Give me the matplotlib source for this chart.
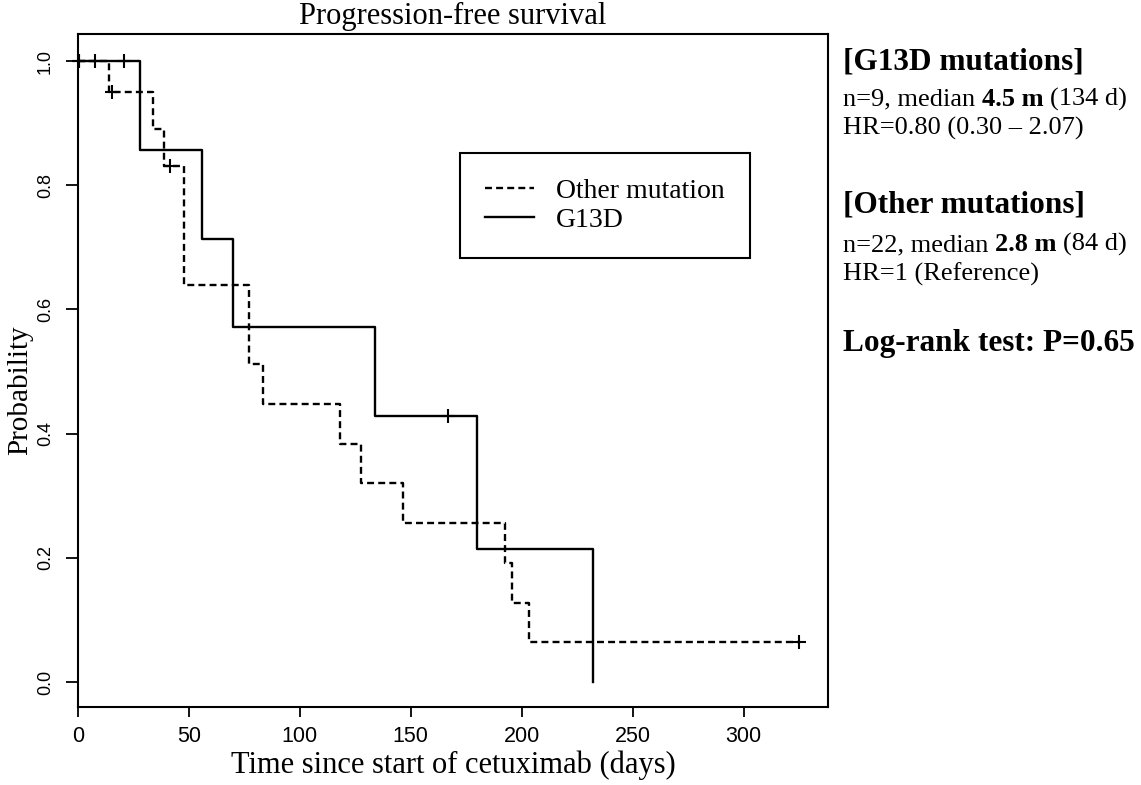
import matplotlib
matplotlib.use("Agg")
import matplotlib.pyplot as plt

# Kaplan-Meier steps (days, survival probability)
g13d_times = [0, 28, 56, 70, 134, 180, 232]
g13d_surv = [1.0, 0.857, 0.714, 0.571, 0.429, 0.214, 0.0]
g13d_cens_times = [0.6, 7.8, 21, 167]
g13d_cens_surv = [1.0, 1.0, 1.0, 0.429]

other_times = [0, 14, 34, 39, 48, 77, 83.5, 118, 127.5, 146.5, 192.5, 195.5, 203.5, 325]
other_surv = [1.0, 0.95, 0.89, 0.831, 0.64, 0.512, 0.448, 0.384, 0.32, 0.256, 0.192, 0.128, 0.064, 0.064]
other_cens_times = [0.6, 15.3, 41.5, 325]
other_cens_surv = [1.0, 0.95, 0.831, 0.064]

x_ticks = [0, 50, 100, 150, 200, 250, 300]
y_ticks = [0.0, 0.2, 0.4, 0.6, 0.8, 1.0]

# side annotation: (text, bold) segments per line
side_lines = [
    [("[G13D mutations]", True)],
    [("n=9, median", False), ("4.5 m", True), ("(134 d)", False)],
    [("HR=0.80 (0.30 \u2013 2.07)", False)],
    [("[Other mutations]", True)],
    [("n=22, median", False), ("2.8 m", True), ("(84 d)", False)],
    [("HR=1 (Reference)", False)],
    [("Log-rank test: P=0.65", True)],
]
side_baselines = [69.5, 105.5, 135, 212.5, 251, 281, 350.5]
side_sizes = [22.5, 19, 19, 22.5, 19, 19, 22.5]

W, H = 1141, 785
SERIF = "Liberation Serif"
plt.rcParams["font.family"] = "Liberation Sans"
plt.rcParams["lines.scale_dashes"] = False

fig = plt.figure(figsize=(W / 100, H / 100), dpi=100)
ax = fig.add_axes([77.7 / W, 1 - 707 / H, (828 - 77.7) / W, (707 - 34) / H])

dash = (0, (5, 3))
ax.step(other_times, other_surv, where="post", color="black", lw=1.7,
        linestyle=dash, label="Other mutation")
ax.step(g13d_times, g13d_surv, where="post", color="black", lw=1.7,
        label="G13D")
ax.plot(other_cens_times, other_cens_surv, "k+", ms=10, mew=1.5, clip_on=False)
ax.plot(g13d_cens_times, g13d_cens_surv, "k+", ms=10, mew=1.5, clip_on=False)

ax.set_xlim(0, 338)
ax.set_ylim(-0.04, 1.0435)
ax.set_xticks(x_ticks)
ax.set_xticklabels([str(v) for v in x_ticks])
ax.set_yticks(y_ticks)
ax.set_yticklabels([f"{v:.1f}" for v in y_ticks], rotation=90, va="center")
ax.tick_params(axis="x", direction="out", length=7.5, width=1.3, pad=6, labelsize=15.5)
ax.tick_params(axis="y", direction="out", length=9, width=1.3, pad=8, labelsize=13)
for sp in ax.spines.values():
    sp.set_linewidth(1.5)

leg = ax.legend(loc="upper left", bbox_to_anchor=(0.5095, 0.823), borderaxespad=0,
                frameon=True, fancybox=False, edgecolor="black", framealpha=1,
                prop={"family": SERIF, "size": 20}, handlelength=1.75,
                handletextpad=0.8, borderpad=0.9, labelspacing=0.15)
leg.get_frame().set_linewidth(1.5)

fig.text(453 / W, 1 - 16 / H, "Progression-free survival", ha="center", va="center",
         family=SERIF, fontsize=22)
fig.text(453 / W, 1 - 765 / H, "Time since start of cetuximab (days)", ha="center",
         va="center", family=SERIF, fontsize=22)
fig.text(20 / W, 1 - 390 / H, "Probability", ha="center", va="center", rotation=90,
         family=SERIF, fontsize=21)

renderer = fig.canvas.get_renderer()
for segs, base, size in zip(side_lines, side_baselines, side_sizes):
    x = 843.0
    space = size * 0.25 * 100 / 72
    for text, bold in segs:
        t = fig.text(x / W, 1 - base / H, text, ha="left", va="baseline", family=SERIF,
                     fontsize=size, fontweight="bold" if bold else "normal")
        bb = t.get_window_extent(renderer)
        x = bb.x1 + space

fig.savefig("out.png", dpi=100)
